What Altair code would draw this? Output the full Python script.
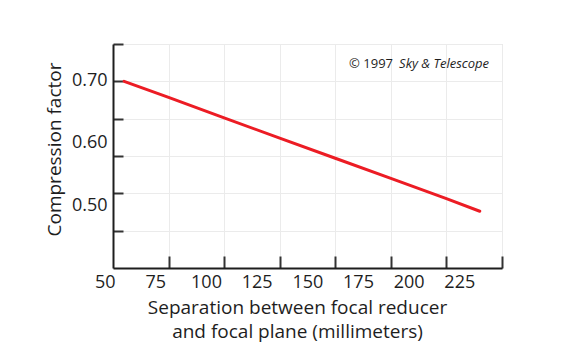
import altair as alt
import pandas as pd

# ---- data ----
separation_mm = [55, 75, 100, 125, 150, 175, 200, 215]
compression = [0.700, 0.6785, 0.651, 0.624, 0.597, 0.570, 0.543, 0.526]

x_tick_values = [75, 100, 125, 150, 175, 200, 225]
y_tick_values = [0.50, 0.55, 0.60, 0.65, 0.70, 0.75]
x_label_values = [50, 75, 100, 125, 150, 175, 200, 225]
y_label_values = [0.50, 0.60, 0.70]

credit_text = ["© 1997", "Sky & Telescope"]
credit_x = [156.2, 178.7]
credit_y = [0.7235, 0.7235]
credit_style = ["normal", "italic"]

x_title = ["Separation between focal reducer", "and focal plane (millimeters)"]
y_title = "Compression factor"

FONT = "Open Sans"
INK = "#1e1e1e"
X_DOMAIN = [50, 225]
Y_DOMAIN = [0.45, 0.75]

line_df = pd.DataFrame({"sep": separation_mm, "cf": compression})
xlab_df = pd.DataFrame({"v": x_label_values})
ylab_df = pd.DataFrame({"v": y_label_values})
credit_df = pd.DataFrame({"x": credit_x, "y": credit_y, "t": credit_text, "s": credit_style})

line = alt.Chart(line_df).mark_line(color="#ec1c24", strokeWidth=3, strokeCap="round").encode(
    x=alt.X("sep:Q",
            scale=alt.Scale(domain=X_DOMAIN, nice=False, zero=False),
            axis=alt.Axis(orient="bottom", values=x_tick_values, labels=False, title=None,
                          domain=True, domainColor=INK, domainWidth=2,
                          ticks=True, tickColor="#333333", tickWidth=2,
                          tickSize={"expr": "-12"},
                          grid=True, gridColor="#ebebeb", gridWidth=1)),
    y=alt.Y("cf:Q",
            scale=alt.Scale(domain=Y_DOMAIN, nice=False, zero=False),
            axis=alt.Axis(orient="left", values=y_tick_values, labels=False, title=None,
                          domain=True, domainColor=INK, domainWidth=2,
                          ticks=True, tickColor="#333333", tickWidth=2,
                          tickSize={"expr": "-10"},
                          grid=True, gridColor="#ebebeb", gridWidth=1)),
)

xlab = alt.Chart(xlab_df).mark_point(opacity=0).encode(
    x=alt.X("v:Q",
            scale=alt.Scale(domain=[50, 225], range=[-8.3, 346.3], nice=False, zero=False),
            axis=alt.Axis(orient="bottom", values=x_label_values, format="d",
                          domain=False, ticks=False, tickSize=0, grid=False,
                          labelFont=FONT, labelFontSize=18, labelColor=INK,
                          labelPadding=5, labelFlush=False, labelOverlap=False,
                          title=x_title, titleFont=FONT, titleFontSize=19,
                          titleFontWeight="normal", titleColor=INK,
                          titleX=184, titleY=45, titleAlign="center",
                          titleBaseline="alphabetic", titleLineHeight=24)),
)

ylab = alt.Chart(ylab_df).mark_point(opacity=0).encode(
    y=alt.Y("v:Q",
            scale=alt.Scale(domain=[0.5, 0.7], range=[161, 36.7], nice=False, zero=False),
            axis=alt.Axis(orient="left", values=y_label_values, format=".2f",
                          domain=False, ticks=False, tickSize=0, grid=False,
                          labelFont=FONT, labelFontSize=18, labelColor=INK,
                          labelPadding=6, labelFlush=False, labelOverlap=False,
                          title=y_title, titleFont=FONT, titleFontSize=19,
                          titleFontWeight="normal", titleColor=INK,
                          titleX=-53, titleY=105, titleAngle=270, titleAlign="center",
                          titleBaseline="alphabetic")),
)


def credit_layer(style):
    return alt.Chart(credit_df).transform_filter(
        alt.datum.s == style
    ).mark_text(align="left", baseline="middle", font=FONT, fontSize=13,
                fontStyle=style, color=INK).encode(
        x=alt.X("x:Q", scale=alt.Scale(domain=X_DOMAIN, nice=False, zero=False), axis=None),
        y=alt.Y("y:Q", scale=alt.Scale(domain=Y_DOMAIN, nice=False, zero=False), axis=None),
        text="t:N",
    )


chart = alt.layer(
    line, xlab, ylab, credit_layer("normal"), credit_layer("italic")
).resolve_scale(
    x="independent", y="independent"
).properties(
    width=389, height=224,
    autosize=alt.AutoSizeParams(type="none"),
    padding={"left": 105, "top": 36, "right": 62, "bottom": 86},
).configure_view(stroke=None).configure(background="white")

chart.save("out.html", embed_options={"renderer": "svg", "actions": False})
